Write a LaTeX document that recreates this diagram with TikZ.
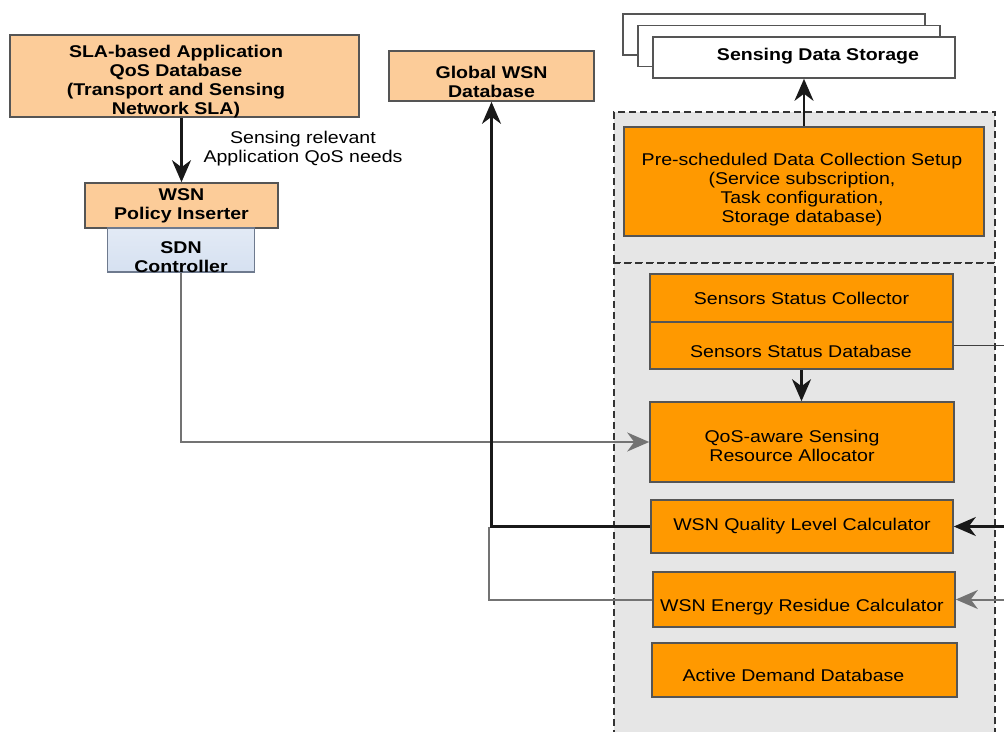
\documentclass[tikz,border=0pt]{standalone}
\usepackage{fontspec}
\setmainfont{Liberation Sans}[FakeStretch=1.15]
\usetikzlibrary{arrows.meta}

\definecolor{lightorange}{RGB}{252,204,153}
\definecolor{deeporange}{RGB}{255,153,0}
\definecolor{panelgray}{RGB}{230,230,230}
\definecolor{edgegray}{RGB}{85,85,85}
\definecolor{linkgray}{RGB}{115,115,115}
\definecolor{sdnblue}{RGB}{214,225,241}
\definecolor{sdnedge}{RGB}{110,122,142}

\begin{document}
\begin{tikzpicture}[x=1pt,y=-1pt,
  font=\fontsize{17}{19}\selectfont,
  basebox/.style={rectangle, draw=edgegray, line width=1.6pt, inner sep=0pt, align=center},
  softbox/.style={basebox, fill=lightorange, font=\fontsize{17}{19}\selectfont\bfseries},
  hotbox/.style={basebox, fill=deeporange},
  sdnbox/.style={basebox, top color=sdnblue!70, bottom color=sdnblue, draw=sdnedge, font=\fontsize{17}{19}\selectfont\bfseries},
  sheet/.style={basebox, fill=white},
  panel/.style={rectangle, fill=panelgray, draw=black!80, line width=1.4pt,
    dash pattern=on 7pt off 4pt, inner sep=0pt},
  caption/.style={inner sep=0pt, align=center},
  boldcaption/.style={caption, font=\fontsize{17}{19}\selectfont\bfseries},
  tip/.style={-{Stealth[length=22pt,width=19pt,inset=7pt]}},
  darklink/.style={tip, draw=black!90, line width=2.4pt},
  greylink/.style={tip, draw=linkgray, line width=2pt},
  plainlink/.style={draw=black!75, line width=1.5pt},
  greyplain/.style={draw=linkgray, line width=2pt}
]
\useasboundingbox (0,0) rectangle (1004,731);
\clip (0,0) rectangle (1004,731);

% dashed grey panels
\node[panel, minimum width=381pt, minimum height=151pt] (toppanel) at (804.5,187.5) {};
\node[panel, minimum width=381pt, minimum height=487pt] (lowpanel) at (804.5,506.5) {};

% stacked storage sheets
\node[sheet, minimum width=302pt, minimum height=41pt] (sdsback) at (774,34.5) {};
\node[sheet, minimum width=302pt, minimum height=41pt] (sdsmid) at (789,46) {};
\node[sheet, minimum width=302pt, minimum height=41pt] (sds) at (804,57.5) {};
\node[boldcaption] (sdsT) at (818,56) {Sensing Data Storage};

% left column
\node[softbox, minimum width=349pt, minimum height=82pt] (sla) at (184.5,76) {};
\node[boldcaption] (slaT) at (176,82) {SLA-based Application\\QoS Database\\(Transport and Sensing\\Network SLA)};
\node[softbox, minimum width=193pt, minimum height=45pt] (wpi) at (181.5,205.5) {WSN\\Policy Inserter};
\node[sdnbox, minimum width=147pt, minimum height=44pt] (sdn) at (181,250) {};
\node[boldcaption] (sdnT) at (181,257) {SDN\\Controller};
\node[caption] (needsT) at (303,148.5) {Sensing relevant\\Application QoS needs};

\node[softbox, minimum width=205pt, minimum height=50pt] (gwsn) at (491.5,76) {};
\node[boldcaption] (gwsnT) at (491.5,81.5) {Global WSN\\Database};

% right column
\node[hotbox, minimum width=360pt, minimum height=109pt] (pre) at (804,181.5) {};
\node[caption] (preT) at (802,189.5) {Pre-scheduled Data Collection Setup\\(Service subscription,\\Task configuration,\\Storage database)};

\node[hotbox, minimum width=303pt, minimum height=48pt] (ssc) at (801.5,298) {Sensors Status Collector};
\node[hotbox, minimum width=303pt, minimum height=47pt] (ssd) at (801.5,345.5) {};
\node[caption] (ssdT) at (801,351) {Sensors Status Database};

\node[hotbox, minimum width=304pt, minimum height=80pt] (qos) at (802,442) {};
\node[caption] (qosT) at (792,446) {QoS-aware Sensing\\Resource Allocator};

\node[hotbox, minimum width=302pt, minimum height=53pt] (qlc) at (802,526.5) {WSN Quality Level Calculator};
\node[hotbox, minimum width=302pt, minimum height=55pt] (erc) at (804,599.5) {};
\node[caption] (ercT) at (802,607) {WSN Energy Residue Calculator};
\node[hotbox, minimum width=305pt, minimum height=54pt] (adb) at (804.5,670) {};
\node[caption] (adbT) at (793.5,675) {Active Demand Database};

% free ends and joints
\coordinate (edgeA) at (1004,345.5);
\coordinate (edgeB) at (1004,526.5);
\coordinate (edgeC) at (1004,599.5);
\coordinate (joint) at (489,526.5);

% connectors
\draw[darklink] (wpi.north |- sla.south) -- (wpi.north);
\draw[greylink] (sdn.south) |- (qos.west);
\draw[greyplain] (erc.west) -| (joint);
\draw[darklink] (qlc.west) -| (gwsn.south);
\draw[darklink] (pre.north) -- (sds.south);
\draw[darklink] (ssd.south) -- (ssd.south |- qos.north);
\draw[plainlink] (ssd.east) -- (edgeA);
\draw[darklink] (edgeB) -- (qlc.east);
\draw[greylink] (edgeC) -- (erc.east);
\end{tikzpicture}
\end{document}
